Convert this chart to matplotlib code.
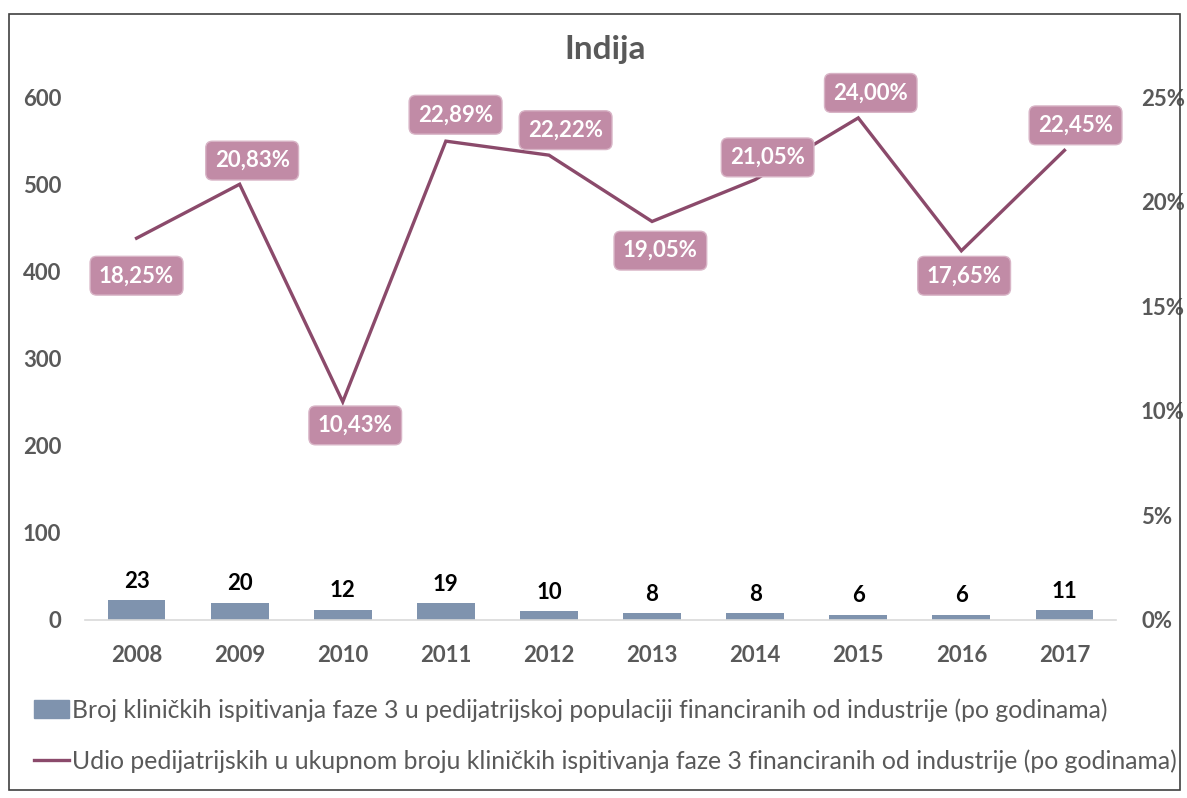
import matplotlib.pyplot as plt
from matplotlib.patches import Rectangle, Patch
from matplotlib.lines import Line2D
import numpy as np

# podaci (Indija)
godine = ['2008', '2009', '2010', '2011', '2012', '2013', '2014', '2015', '2016', '2017']
broj_ispitivanja = [23, 20, 12, 19, 10, 8, 8, 6, 6, 11]
udio_pedijatrijskih = [18.25, 20.83, 10.43, 22.89, 22.22, 19.05, 21.05, 24.00, 17.65, 22.45]
naslov = 'Indija'
legenda_stupci = 'Broj kliničkih ispitivanja faze 3 u pedijatrijskoj populaciji financiranih od industrije (po godinama)'
legenda_linija = 'Udio pedijatrijskih u ukupnom broju kliničkih ispitivanja faze 3 financiranih od industrije (po godinama)'

plt.rcParams['font.family'] = ['Lato', 'DejaVu Sans']

sivo = '#595959'
boja_stupaca = '#7F93AE'
boja_linije = '#8B4A6B'
boja_oznaka = '#C18BA6'

fig = plt.figure(figsize=(11.87, 7.98), dpi=100)
ax = fig.add_axes([85 / 1187, 1 - 620 / 798, (1116 - 85) / 1187, (620 - 97) / 798])
x = np.arange(len(godine))

bars = ax.bar(x, broj_ispitivanja, width=0.56, color=boja_stupaca, zorder=2)
ax.bar_label(bars, labels=[str(v) for v in broj_ispitivanja], padding=6,
             fontsize=16, fontweight='bold', color='black')
ax.set_xlim(-0.5, len(godine) - 0.5)
ax.set_ylim(0, 600)
ax.set_yticks(range(0, 601, 100))
ax.set_xticks(x)
ax.set_xticklabels(godine)
for s in ['top', 'left', 'right']:
    ax.spines[s].set_visible(False)
ax.spines['bottom'].set_color('#D9D9D9')
ax.spines['bottom'].set_linewidth(1.2)
ax.tick_params(axis='both', length=0, labelsize=16, labelcolor=sivo)
ax.tick_params(axis='y', pad=17)
ax.tick_params(axis='x', pad=18)
for t in ax.get_xticklabels() + ax.get_yticklabels():
    t.set_fontweight('bold')

ax2 = ax.twinx()
ax2.plot(x, udio_pedijatrijskih, color=boja_linije, lw=2.4, zorder=3, solid_joinstyle='miter')
ax2.set_ylim(0, 25)
ax2.set_yticks(range(0, 26, 5))
ax2.set_yticklabels([f'{v}%' for v in range(0, 26, 5)])
for s in ['top', 'left', 'right', 'bottom']:
    ax2.spines[s].set_visible(False)
ax2.tick_params(axis='y', length=0, labelsize=16, labelcolor=sivo, pad=18)
for t in ax2.get_yticklabels():
    t.set_fontweight('bold')

# pomaci oznaka (u tockama)
pomaci = [(0, -27), (9, 17), (9, -17), (7, 19), (12, 18), (6, -21), (9, 16), (9, 18), (2, -18), (8, 18)]
for xi, v, (dx, dy) in zip(x, udio_pedijatrijskih, pomaci):
    ax2.annotate(f'{v:.2f}'.replace('.', ',') + '%', (xi, v), xytext=(dx, dy),
                 textcoords='offset points', ha='center', va='center',
                 fontsize=16, fontweight='bold', color='white', zorder=5,
                 bbox=dict(boxstyle='round,pad=0.4,rounding_size=0.3',
                           fc=boja_oznaka, ec='#D8B4C6', lw=1))

fig.text(0.51, 1 - 50 / 798, naslov, ha='center', va='center',
         fontsize=24, fontweight='bold', color=sivo)

handles = [Patch(color=boja_stupaca), Line2D([0], [0], color=boja_linije, lw=2.4)]
fig.legend(handles, [legenda_stupci, legenda_linija], loc='upper left',
           bbox_to_anchor=(34 / 1187, 1 - 698 / 798), frameon=False,
           fontsize=17.8, labelcolor=sivo, handlelength=1.4, handletextpad=0.12,
           labelspacing=1.12, borderpad=0, borderaxespad=0)

fig.patches.append(Rectangle((9 / 1187, 1 - 790 / 798), (1180 - 9) / 1187, (790 - 14) / 798,
                             transform=fig.transFigure, fill=False, ec='#404040', lw=1.2))

fig.savefig('out.png', dpi=100)
